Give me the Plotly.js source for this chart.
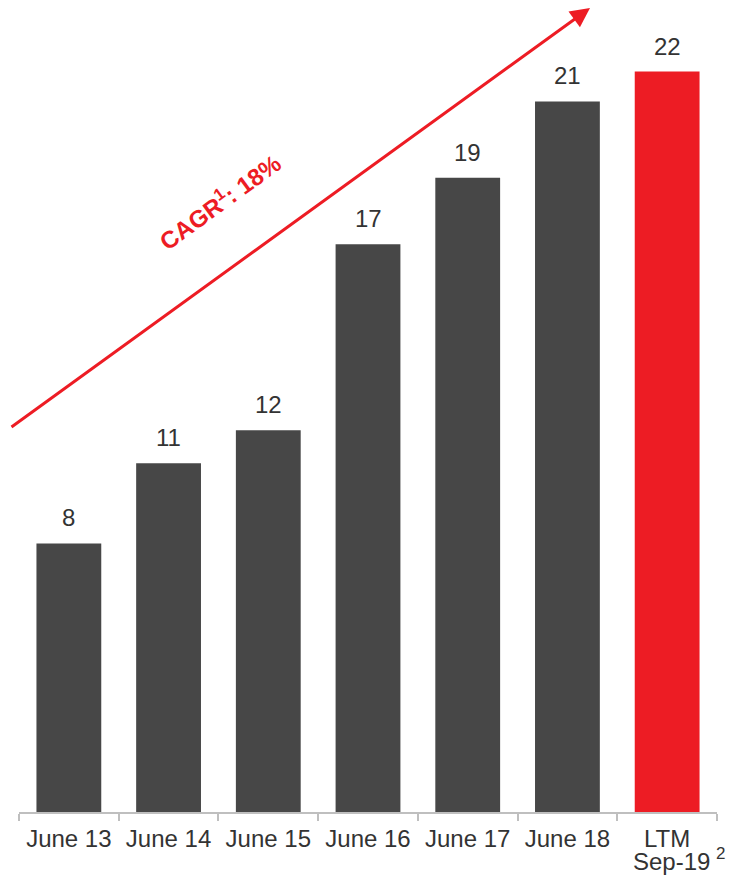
<!DOCTYPE html>
<html>
<head>
<meta charset="utf-8">
<script src="https://cdn.plot.ly/plotly-3.0.1.min.js"></script>
<style>html,body{margin:0;padding:0;background:#fff;}#chart{width:730px;height:876px;}</style>
</head>
<body>
<div id="chart"></div>
<script>
var categories = ["June 13", "June 14", "June 15", "June 16", "June 17", "June 18", "LTM Sep-19"];
var tickLabels = ["June 13", "June 14", "June 15", "June 16", "June 17", "June 18", "LTM"];
var secondLineLabel = "Sep-19";
var footnoteMark = "2";
var values = [8.09, 10.5, 11.5, 17.1, 19.1, 21.4, 22.3];
var valueLabels = ["8", "11", "12", "17", "19", "21", "22"];
var barColors = ["#474747", "#474747", "#474747", "#474747", "#474747", "#474747", "#ED1C24"];
var cagrText = "CAGR<sup>1</sup>: 18%";

var FONT = "Liberation Sans, Arial, sans-serif";

var trace = {
  type: "bar",
  x: categories,
  y: values,
  marker: {color: barColors, line: {width: 0}},
  hoverinfo: "none"
};

var annotations = categories.map(function (c, i) {
  return {
    x: c, y: values[i], xref: "x", yref: "y",
    text: valueLabels[i], showarrow: false,
    yanchor: "bottom", yshift: 10,
    font: {family: FONT, size: 24, color: "#333333"}
  };
});

// second line of the last category label
annotations.push({
  x: categories[6], xref: "x", yref: "paper",
  y: (812 - 861) / 772, yanchor: "middle", xshift: 4,
  text: secondLineLabel, showarrow: false,
  font: {family: FONT, size: 24, color: "#333333"}
});
annotations.push({
  x: categories[6], xref: "x", yref: "paper",
  y: (812 - 853) / 772, yanchor: "middle", xshift: 53,
  text: footnoteMark, showarrow: false,
  font: {family: FONT, size: 17, color: "#333333"}
});

annotations.push({
  xref: "paper", yref: "paper",
  x: (590 - 19) / 698, y: (812 - 8) / 772,
  ax: -580, ay: 420,
  showarrow: true, arrowhead: 2, arrowsize: 1.3, arrowwidth: 3,
  arrowcolor: "#ED1C24", text: ""
});

annotations.push({
  xref: "paper", yref: "paper",
  x: (150 - 19) / 698, y: (812 - 144) / 772,
  text: cagrText, showarrow: false, textangle: -36,
  font: {family: FONT, size: 24, color: "#ED1C24", weight: "bold"}
});

var layout = {
  width: 730, height: 876,
  margin: {l: 19, r: 13, t: 40, b: 64},
  paper_bgcolor: "#ffffff", plot_bgcolor: "#ffffff",
  showlegend: false,
  bargap: 0.35,
  xaxis: {
    type: "category",
    range: [-0.5, categories.length - 0.5],
    tickvals: categories, ticktext: tickLabels,
    showline: true, linecolor: "#bfbfbf", linewidth: 2,
    ticks: "outside", tickson: "boundaries", ticklen: 7, tickcolor: "#bfbfbf", tickwidth: 2,
    showgrid: false, zeroline: false,
    tickangle: 0,
    ticklabelstandoff: 4,
    tickfont: {family: FONT, size: 24, color: "#333333"},
    fixedrange: true
  },
  yaxis: {
    range: [0, 23.25], visible: false, showgrid: false, zeroline: false, fixedrange: true
  },
  annotations: annotations
};

Plotly.newPlot("chart", [trace], layout, {displayModeBar: false, staticPlot: true});
</script>
</body>
</html>
